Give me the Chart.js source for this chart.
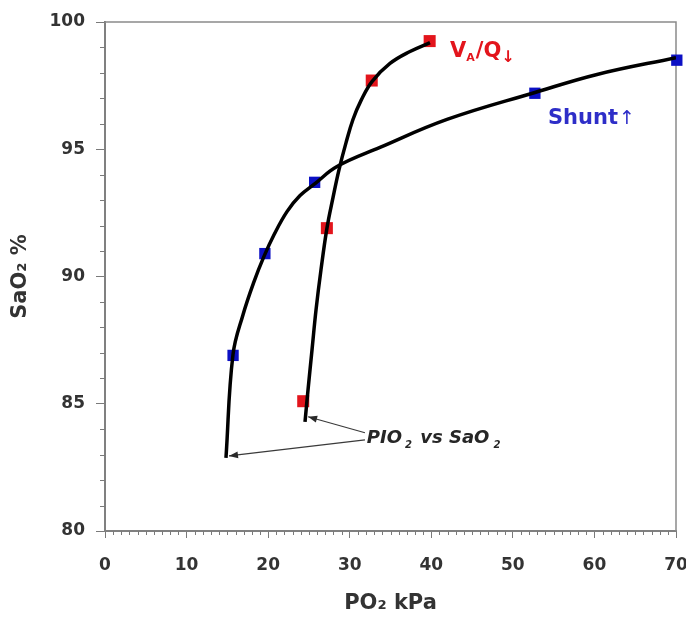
<!DOCTYPE html>
<html>
<head>
<meta charset="utf-8">
<script src="https://cdn.jsdelivr.net/npm/chart.js@4/dist/chart.umd.min.js"></script>
<style>
  html, body { margin: 0; padding: 0; background: #fff; }
  #wrap { width: 686px; height: 619px; }
</style>
</head>
<body>
<div id="wrap"><canvas id="c" width="686" height="619"></canvas></div>
<script>
// PIO2 sweep curve with increasing shunt (PO2 kPa, SaO2 %)
const shuntCurvePO2  = [14.83, 15.69, 16.92, 18.27, 19.49, 20.72, 22.31, 23.91, 25.74, 28.44, 33.71, 41.93, 52.71, 60.32, 70.0];
const shuntCurveSaO2 = [82.87, 86.93, 88.50, 89.80, 90.79, 91.64, 92.55, 93.18, 93.65, 94.32, 95.07, 96.17, 97.23, 97.94, 98.6];

// PIO2 sweep curve with falling VA/Q
const vqCurvePO2  = [24.52, 24.89, 25.38, 25.87, 26.48, 27.22, 27.95, 28.69, 29.55, 30.40, 31.38, 32.73, 34.94, 37.39, 39.84];
const vqCurveSaO2 = [84.29, 85.55, 87.12, 88.69, 90.27, 91.92, 93.10, 94.20, 95.26, 96.17, 96.91, 97.66, 98.37, 98.84, 99.19];

// Measured points
const shuntPO2  = [15.7, 19.6, 25.7, 52.7, 70.1];
const shuntSaO2 = [86.9, 90.9, 93.7, 97.2, 98.5];
const vqPO2  = [24.3, 27.2, 32.7, 39.8];
const vqSaO2 = [85.1, 91.9, 97.7, 99.25];

// Axis ranges
const xRange = [0, 70];
const yRange = [80, 100];
const xMajorStep = 10, yMajorStep = 5, minorStep = 1;

const toXY = (xs, ys) => xs.map((x, i) => ({ x, y: ys[i] }));

const BLUE = '#0c10c4';
const RED = '#e3151c';
const INK = '#333333';

// small ticks between the labelled ones, and the top/right frame
const frame = {
  id: 'frame',
  beforeDatasetsDraw(chart) {
    const { ctx, chartArea: a, scales: { x, y } } = chart;
    ctx.save();
    ctx.strokeStyle = '#8a8a8a';
    ctx.lineWidth = 1.5;
    ctx.beginPath();
    ctx.moveTo(a.left, a.top); ctx.lineTo(a.right, a.top); ctx.lineTo(a.right, a.bottom);
    ctx.stroke();
    ctx.lineWidth = 1;
    ctx.strokeStyle = '#7a7a7a';
    ctx.beginPath();
    for (let v = xRange[0]; v <= xRange[1]; v += minorStep) {
      if (v % xMajorStep === 0) continue;
      const px = Math.round(x.getPixelForValue(v)) + 0.5;
      ctx.moveTo(px, a.bottom); ctx.lineTo(px, a.bottom + 4);
    }
    for (let v = yRange[0]; v <= yRange[1]; v += minorStep) {
      if (v % yMajorStep === 0) continue;
      const py = Math.round(y.getPixelForValue(v)) + 0.5;
      ctx.moveTo(a.left, py); ctx.lineTo(a.left - 5, py);
    }
    ctx.stroke();
    ctx.restore();
  }
};

function drawRuns(ctx, x, y, runs) {
  let cx = x;
  for (const r of runs) {
    ctx.font = r.font;
    ctx.fillStyle = r.color;
    cx += r.pre || 0;
    ctx.fillText(r.t, cx, y + (r.dy || 0));
    cx += ctx.measureText(r.t).width;
  }
}

function arrow(ctx, x0, y0, x1, y1) {
  ctx.beginPath();
  ctx.moveTo(x0, y0); ctx.lineTo(x1, y1);
  ctx.stroke();
  const ang = Math.atan2(y1 - y0, x1 - x0);
  const L = 9, W = 3.5;
  ctx.beginPath();
  ctx.moveTo(x1, y1);
  ctx.lineTo(x1 - L * Math.cos(ang) + W * Math.sin(ang), y1 - L * Math.sin(ang) - W * Math.cos(ang));
  ctx.lineTo(x1 - L * Math.cos(ang) - W * Math.sin(ang), y1 - L * Math.sin(ang) + W * Math.cos(ang));
  ctx.closePath();
  ctx.fill();
}

const labels = {
  id: 'labels',
  afterDatasetsDraw(chart) {
    const { ctx, scales: { x, y } } = chart;
    const X = v => x.getPixelForValue(v), Y = v => y.getPixelForValue(v);
    ctx.save();
    ctx.textBaseline = 'alphabetic';
    ctx.textAlign = 'left';

    // VA/Q label
    drawRuns(ctx, X(42.3), Y(98.62), [
      { t: 'V', font: 'bold 21px "DejaVu Sans"', color: RED },
      { t: 'A', font: 'bold 11px "DejaVu Sans"', color: RED, dy: 4 },
      { t: '/Q', font: 'bold 21px "DejaVu Sans"', color: RED, pre: 1 },
      { t: '\u2193', font: 'bold 16px "DejaVu Sans"', color: RED, dy: 5 }
    ]);

    // Shunt label
    drawRuns(ctx, X(54.3), Y(96.0), [
      { t: 'Shunt', font: 'bold 21px "DejaVu Sans"', color: '#2e2ec8' },
      { t: '\u2191', font: '19px "DejaVu Sans"', color: '#2e2ec8', pre: 1 }
    ]);

    // PIO2 vs SaO2 callout
    ctx.strokeStyle = '#3a3a3a';
    ctx.fillStyle = '#2a2a2a';
    ctx.lineWidth = 1.2;
    arrow(ctx, X(31.87), Y(83.86), X(24.9), Y(84.49));
    arrow(ctx, X(31.87), Y(83.58), X(15.2), Y(82.95));
    const it = 'italic bold 18px "DejaVu Sans"';
    const sub = 'italic bold 10px "DejaVu Sans"';
    drawRuns(ctx, X(32.1), Y(83.45), [
      { t: 'PIO', font: it, color: '#262626' },
      { t: '2', font: sub, color: '#262626', dy: 5, pre: 3 },
      { t: ' vs SaO', font: it, color: '#262626', pre: 2 },
      { t: '2', font: sub, color: '#262626', dy: 5, pre: 4 }
    ]);
    ctx.restore();
  }
};

new Chart(document.getElementById('c'), {
  type: 'scatter',
  data: {
    datasets: [
      { data: toXY(shuntCurvePO2, shuntCurveSaO2), showLine: true, borderColor: '#000', borderWidth: 3.5,
        pointRadius: 0, tension: 0.4, fill: false },
      { data: toXY(vqCurvePO2, vqCurveSaO2), showLine: true, borderColor: '#000', borderWidth: 3.5,
        pointRadius: 0, tension: 0.4, fill: false },
      { data: toXY(shuntPO2, shuntSaO2), pointStyle: 'rect', pointRadius: 8, backgroundColor: BLUE,
        borderWidth: 0, clip: false },
      { data: toXY(vqPO2, vqSaO2), pointStyle: 'rect', pointRadius: 8.5, backgroundColor: RED,
        borderWidth: 0, clip: false }
    ]
  },
  options: {
    responsive: false,
    animation: false,
    devicePixelRatio: 1,
    layout: { padding: { top: 22, right: 10, bottom: 0, left: 0 } },
    plugins: { legend: { display: false }, tooltip: { enabled: false } },
    scales: {
      x: {
        type: 'linear', min: xRange[0], max: xRange[1],
        ticks: { stepSize: xMajorStep, color: INK, font: { family: 'DejaVu Sans', size: 17, weight: 'bold' }, padding: 17, maxRotation: 0 },
        grid: { drawOnChartArea: false, tickLength: 7, color: '#7a7a7a', tickWidth: 1 },
        border: { color: '#808080', width: 2 },
        title: { display: true, text: 'PO\u2082 kPa', color: INK, font: { family: 'DejaVu Sans', size: 21, weight: 'bold' }, padding: { top: 0, bottom: 3 } },
        afterFit(s) { s.height = 88; s.paddingRight = 0; s.paddingLeft = 0; }
      },
      y: {
        type: 'linear', min: yRange[0], max: yRange[1],
        ticks: { stepSize: yMajorStep, color: INK, font: { family: 'DejaVu Sans', size: 17, weight: 'bold' }, padding: 11 },
        grid: { drawOnChartArea: false, tickLength: 9, color: '#7a7a7a', tickWidth: 1 },
        border: { color: '#808080', width: 2 },
        title: { display: true, text: 'SaO\u2082 %', color: INK, font: { family: 'DejaVu Sans', size: 21, weight: 'bold' }, padding: { top: 8, bottom: 0 } },
        afterFit(s) { s.width = 105; s.paddingTop = 0; s.paddingBottom = 0; }
      }
    }
  },
  plugins: [frame, labels]
});
</script>
</body>
</html>
